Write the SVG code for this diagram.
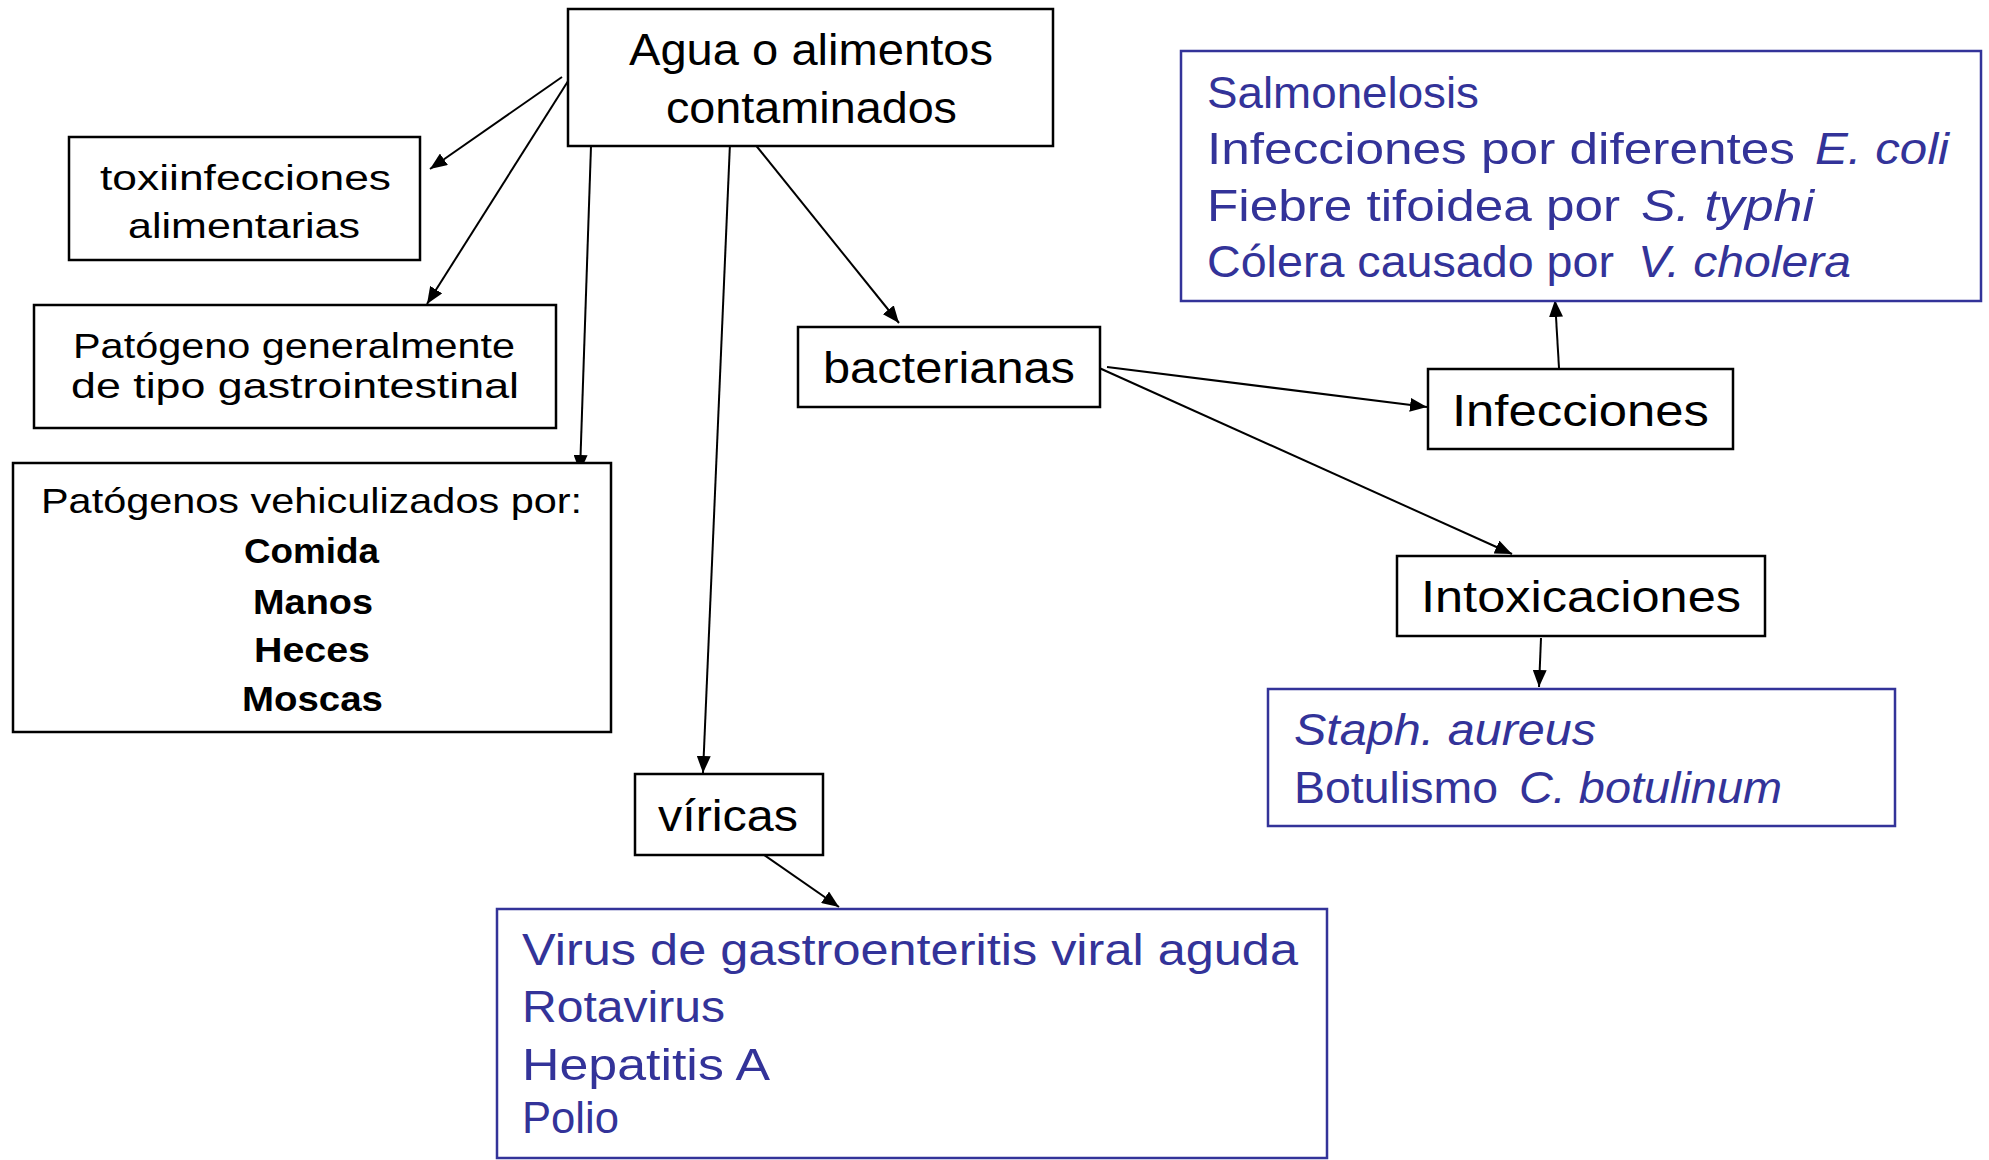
<svg xmlns="http://www.w3.org/2000/svg" width="1989" height="1160" viewBox="0 0 1989 1160">
  <style>
    .box { fill: #ffffff; stroke: #000000; stroke-width: 2.5; }
    .bbox { fill: #ffffff; stroke: #333399; stroke-width: 2.5; }
    .t { font-family: "Liberation Sans", "DejaVu Sans", sans-serif; fill: #000000; }
    .lg { font-size: 44px; }
    .sm { font-size: 35px; }
    .bold { font-weight: bold; }
    .blue { font-family: "Liberation Sans", "DejaVu Sans", sans-serif; fill: #333399; font-size: 45px; }
    .it { font-style: italic; }
    .conn line { stroke: #000000; stroke-width: 2; marker-end: url(#arrow); }
  </style>
  <defs>
    <marker id="arrow" markerUnits="userSpaceOnUse" markerWidth="18" markerHeight="14" refX="17" refY="7" orient="auto">
      <path d="M0,0 L17,7 L0,14 z" fill="#000000"/>
    </marker>
  </defs>
  <rect width="1989" height="1160" fill="#ffffff"/>

  <g id="connectors" class="conn">
    <line x1="562" y1="77" x2="430" y2="169"/>
    <line x1="570" y1="78" x2="427" y2="304"/>
    <line x1="591" y1="146" x2="580" y2="472"/>
    <line x1="730" y1="143" x2="703" y2="773"/>
    <line x1="754" y1="143" x2="899" y2="323"/>
    <line x1="1107" y1="367" x2="1427" y2="407"/>
    <line x1="1097" y1="367" x2="1512" y2="554"/>
    <line x1="1559" y1="368" x2="1555" y2="300"/>
    <line x1="1541" y1="638" x2="1539" y2="687"/>
    <line x1="757" y1="850" x2="839" y2="907"/>
  </g>

  <g id="agua">
    <rect class="box" x="568" y="9" width="485" height="137"/>
    <text class="t lg" x="629" y="65" textLength="364" lengthAdjust="spacingAndGlyphs">Agua o alimentos</text>
    <text class="t lg" x="666" y="123" textLength="291" lengthAdjust="spacingAndGlyphs">contaminados</text>
  </g>

  <g id="toxiinfecciones">
    <rect class="box" x="69" y="137" width="351" height="123"/>
    <text class="t sm" x="100" y="190" textLength="291" lengthAdjust="spacingAndGlyphs">toxiinfecciones</text>
    <text class="t sm" x="128" y="238" textLength="232" lengthAdjust="spacingAndGlyphs">alimentarias</text>
  </g>

  <g id="patogeno">
    <rect class="box" x="34" y="305" width="522" height="123"/>
    <text class="t sm" x="73" y="358" textLength="442" lengthAdjust="spacingAndGlyphs">Patógeno generalmente</text>
    <text class="t sm" x="71" y="398" textLength="448" lengthAdjust="spacingAndGlyphs">de tipo gastrointestinal</text>
  </g>

  <g id="vehiculizados">
    <rect class="box" x="13" y="463" width="598" height="269"/>
    <text class="t sm" x="41" y="513" textLength="541" lengthAdjust="spacingAndGlyphs">Patógenos vehiculizados por:</text>
    <text class="t sm bold" x="244" y="563" textLength="135" lengthAdjust="spacingAndGlyphs">Comida</text>
    <text class="t sm bold" x="253" y="614" textLength="120" lengthAdjust="spacingAndGlyphs">Manos</text>
    <text class="t sm bold" x="254" y="662" textLength="116" lengthAdjust="spacingAndGlyphs">Heces</text>
    <text class="t sm bold" x="242" y="711" textLength="141" lengthAdjust="spacingAndGlyphs">Moscas</text>
  </g>

  <g id="bacterianas">
    <rect class="box" x="798" y="327" width="302" height="80"/>
    <text class="t lg" x="823" y="383" textLength="252" lengthAdjust="spacingAndGlyphs">bacterianas</text>
  </g>

  <g id="viricas">
    <rect class="box" x="635" y="774" width="188" height="81"/>
    <text class="t lg" x="658" y="831" textLength="140" lengthAdjust="spacingAndGlyphs">víricas</text>
  </g>

  <g id="infecciones">
    <rect class="box" x="1428" y="369" width="305" height="80"/>
    <text class="t lg" x="1452" y="426" textLength="257" lengthAdjust="spacingAndGlyphs">Infecciones</text>
  </g>

  <g id="intoxicaciones">
    <rect class="box" x="1397" y="556" width="368" height="80"/>
    <text class="t lg" x="1421" y="612" textLength="320" lengthAdjust="spacingAndGlyphs">Intoxicaciones</text>
  </g>

  <g id="infecciones-lista">
    <rect class="bbox" x="1181" y="51" width="800" height="250"/>
    <text class="blue" x="1207" y="108" textLength="272" lengthAdjust="spacingAndGlyphs">Salmonelosis</text>
    <text class="blue" y="164"><tspan x="1207" textLength="588" lengthAdjust="spacingAndGlyphs">Infecciones por diferentes</tspan> <tspan class="it" x="1815" textLength="134" lengthAdjust="spacingAndGlyphs">E. coli</tspan></text>
    <text class="blue" y="221"><tspan x="1207" textLength="413" lengthAdjust="spacingAndGlyphs">Fiebre tifoidea por</tspan> <tspan class="it" x="1641" textLength="173" lengthAdjust="spacingAndGlyphs">S. typhi</tspan></text>
    <text class="blue" y="277"><tspan x="1207" textLength="407" lengthAdjust="spacingAndGlyphs">Cólera causado por</tspan> <tspan class="it" x="1638" textLength="213" lengthAdjust="spacingAndGlyphs">V. cholera</tspan></text>
  </g>

  <g id="intoxicaciones-lista">
    <rect class="bbox" x="1268" y="689" width="627" height="137"/>
    <text class="blue it" x="1294" y="745" textLength="302" lengthAdjust="spacingAndGlyphs">Staph. aureus</text>
    <text class="blue" y="803"><tspan x="1294" textLength="204" lengthAdjust="spacingAndGlyphs">Botulismo</tspan> <tspan class="it" x="1519" textLength="263" lengthAdjust="spacingAndGlyphs">C. botulinum</tspan></text>
  </g>

  <g id="virus-lista">
    <rect class="bbox" x="497" y="909" width="830" height="249"/>
    <text class="blue" x="522" y="965" textLength="776" lengthAdjust="spacingAndGlyphs">Virus de gastroenteritis viral aguda</text>
    <text class="blue" x="522" y="1022" textLength="203" lengthAdjust="spacingAndGlyphs">Rotavirus</text>
    <text class="blue" x="522" y="1080" textLength="248" lengthAdjust="spacingAndGlyphs">Hepatitis A</text>
    <text class="blue" x="522" y="1133" textLength="97" lengthAdjust="spacingAndGlyphs">Polio</text>
  </g>
</svg>
